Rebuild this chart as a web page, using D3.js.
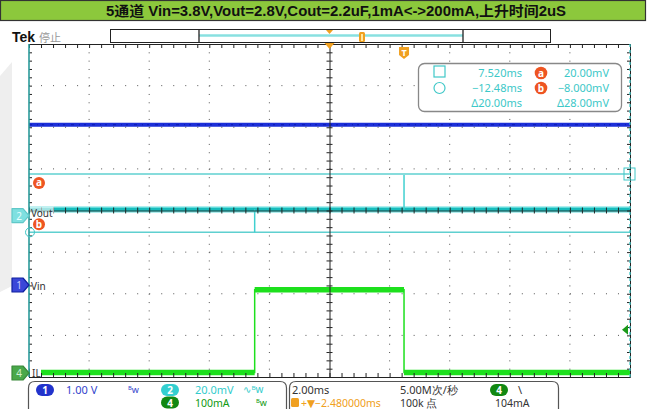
<!DOCTYPE html>
<html><head><meta charset="utf-8">
<script src="https://cdn.jsdelivr.net/npm/d3@7"></script>
<style>
html,body{margin:0;padding:0;background:#fff;}
svg{display:block;}
</style></head>
<body>
<svg id="c" width="650" height="409"></svg>
<script>
// ---------------- DATA ----------------
const titleText = "5通道 Vin=3.8V,Vout=2.8V,Cout=2.2uF,1mA<->200mA,上升时间2uS";
// time (ms, relative to trigger) shown on screen
const timeWindow = [-12.48, 7.52];
// Ch1 Vin (V)
const vinT = [-12.48, 7.52];
const vinV = [3.85, 3.85];
// Ch2 Vout (mV, AC detail)
const voutT = [-12.48, 7.52];
const voutV = [3, 3];
const voutSpikeT = [-4.97, 0.0];
const voutSpikeV = [-8, 19.5];
// Ch4 IL (mA)
const ilT = [-12.48, -4.97, -4.97, 0.0, 0.0, 7.52];
const ilV = [1, 1, 200, 200, 1, 1];
// cursors
const cursorA = 20.0, cursorB = -8.0;           // mV (ch2)
const cursorT1 = 7.52, cursorT2 = -12.48;       // ms
const readoutRows = [
  ["7.520ms", "a", "20.00mV"],
  ["\u221212.48ms", "b", "\u22128.000mV"],
  ["\u039420.00ms", "", "\u039428.00mV"]
];
// ---------------- LAYOUT ----------------
const svg = d3.select("#c");
const L = 29, R = 630, T = 44, B = 377;
const xDiv = d3.scaleLinear().domain([-5, 5]).range([L, R]);
const yDiv = d3.scaleLinear().domain([4, -4]).range([T, B]);
const x = d3.scaleLinear().domain(timeWindow).range([L, R]);
function chScale(perDiv, posDiv) {
  return d3.scaleLinear().domain([(-4 - posDiv) * perDiv, (4 - posDiv) * perDiv]).range([B, T]);
}
const y1 = chScale(1.0, -1.79);
const y2 = chScale(20, -0.123);
const y4 = chScale(100, -3.904);

const C_BLUE = "#1c2fd8", C_CYAN = "#2fd0d0", C_GREEN = "#1de01d", C_ORANGE = "#f0a020", C_RED = "#ee5522";
const FONT = "'Noto Sans','DejaVu Sans',sans-serif";

// title bar
svg.append("rect").attr("x", 0.5).attr("y", 0.5).attr("width", 645).attr("height", 20)
  .attr("fill", "#8cc83c").attr("stroke", "#333").attr("stroke-width", 1.2);
svg.append("text").attr("x", 336).attr("y", 15.5).attr("text-anchor", "middle")
  .attr("font-family", "'Liberation Sans Narrow','Liberation Sans','Noto Sans CJK SC',sans-serif")
  .attr("font-weight", "bold").attr("font-size", 14).attr("fill", "#111")
  .attr("textLength", 460).attr("lengthAdjust", "spacingAndGlyphs").text(titleText);

// left watermark
svg.append("path").attr("d", "M0,76 L12,62 L12,286 L0,292 Z").attr("fill", "#eeeeee");

// Tek label
svg.append("text").attr("x", 12).attr("y", 42).attr("font-family", "'Liberation Sans',Arial,sans-serif")
  .attr("font-weight", "bold").attr("font-size", 14).attr("fill", "#111").text("Tek");
svg.append("text").attr("x", 39).attr("y", 42).attr("font-family", "'Noto Sans CJK SC',sans-serif")
  .attr("font-size", 11).attr("fill", "#999").text("停止");

// record bar
svg.append("rect").attr("x", 110.5).attr("y", 29.5).attr("width", 440).attr("height", 13)
  .attr("fill", "#fff").attr("stroke", "#222").attr("stroke-width", 1);
svg.append("line").attr("x1", 199).attr("x2", 463).attr("y1", 35.5).attr("y2", 35.5)
  .attr("stroke", "#88e0e0").attr("stroke-width", 2.5);
[199, 463].forEach(v => svg.append("line").attr("x1", v).attr("x2", v).attr("y1", 30).attr("y2", 42)
  .attr("stroke", "#222").attr("stroke-width", 1.3));
svg.append("path").attr("d", "M326,30 L333,30 L329.5,34 Z").attr("fill", C_ORANGE);
svg.append("rect").attr("x", 359).attr("y", 32).attr("width", 6).attr("height", 10).attr("rx", 1.5)
  .attr("fill", C_ORANGE);
svg.append("rect").attr("x", 361).attr("y", 34).attr("width", 2).attr("height", 7).attr("fill", "#ffe6a0");

// ---------------- TRACES ----------------
const gTr = svg.append("g");
const line = (ys) => d3.line().x(d => x(d[0])).y(d => ys(d[1]));
const zip = (a, b) => a.map((v, i) => [v, b[i]]);

[cursorA, cursorB].forEach(v => gTr.append("line").attr("x1", L).attr("x2", R)
  .attr("y1", y2(v)).attr("y2", y2(v)).attr("stroke", "#5fd0d0").attr("stroke-width", 1.4));

// Vin
gTr.append("path").attr("d", line(y1)(zip(vinT, vinV))).attr("fill", "none")
  .attr("stroke", C_BLUE).attr("stroke-width", 4);
gTr.append("path").attr("d", line(y1)(zip(vinT, vinV))).attr("fill", "none")
  .attr("stroke", "#0a18b0").attr("stroke-width", 1.2).attr("stroke-dasharray", "3 5 1 4 2 6");

// Vout
gTr.append("path").attr("d", line(y2)(zip(voutT, voutV))).attr("fill", "none")
  .attr("stroke", C_CYAN).attr("stroke-width", 6).attr("opacity", 0.75);
gTr.append("path").attr("d", line(y2)(zip(voutT, voutV))).attr("fill", "none")
  .attr("stroke", "#18bcbc").attr("stroke-width", 3);
voutSpikeT.forEach((t, i) => gTr.append("line").attr("x1", x(t)).attr("x2", x(t))
  .attr("y1", y2(voutV[0])).attr("y2", y2(voutSpikeV[i])).attr("stroke", "#40d0d0").attr("stroke-width", 1.5));

// IL
const ilPts = zip(ilT, ilV);
gTr.append("path").attr("d", line(y4)(ilPts)).attr("fill", "none")
  .attr("stroke", C_GREEN).attr("stroke-width", 1.5);
for (let i = 0; i < ilPts.length - 1; i++) {
  if (ilPts[i][1] === ilPts[i + 1][1]) {
    gTr.append("line").attr("x1", x(ilPts[i][0])).attr("x2", x(ilPts[i + 1][0]))
      .attr("y1", y4(ilPts[i][1])).attr("y2", y4(ilPts[i][1]))
      .attr("stroke", C_GREEN).attr("stroke-width", 5.5);
  }
}

// ---------------- GRATICULE ----------------
const g = svg.append("g");
const minorX = d3.range(-5, 5.001, 0.2), minorY = d3.range(-4, 4.001, 0.2);
const dotC = "#555";
d3.range(-4, 5).filter(v => v !== 0).forEach(v => {
  g.append("line").attr("x1", xDiv(v)).attr("x2", xDiv(v)).attr("y1", T).attr("y2", B)
    .attr("stroke", dotC).attr("stroke-width", 1).attr("stroke-dasharray", `1 ${(B - T) / 40 - 1}`);
});
d3.range(-3, 4).filter(v => v !== 0).forEach(v => {
  g.append("line").attr("x1", L).attr("x2", R).attr("y1", yDiv(v)).attr("y2", yDiv(v))
    .attr("stroke", dotC).attr("stroke-width", 1).attr("stroke-dasharray", `1 ${(R - L) / 50 - 1}`);
});
function ax(axis, tx, ty) {
  const a = g.append("g").attr("transform", `translate(${tx},${ty})`).call(axis);
  a.selectAll("text").remove();
  a.selectAll("line").attr("stroke", "#222");
  a.select(".domain").attr("stroke", "#222");
  return a;
}
ax(d3.axisBottom(xDiv).tickValues(minorX).tickSize(4).tickSizeOuter(0).tickFormat(""), 0, T);
ax(d3.axisTop(xDiv).tickValues(minorX).tickSize(4).tickSizeOuter(0).tickFormat(""), 0, B);
ax(d3.axisLeft(yDiv).tickValues(minorY).tickSize(3).tickSizeOuter(0).tickFormat(""), R, 0);
ax(d3.axisLeft(yDiv).tickValues(minorY).tickSize(3).tickSizeOuter(0).tickFormat(""), xDiv(0), 0);
ax(d3.axisRight(yDiv).tickValues(minorY).tickSize(3).tickSizeOuter(0).tickFormat(""), xDiv(0), 0).select(".domain").remove();
ax(d3.axisTop(xDiv).tickValues(minorX).tickSize(3).tickSizeOuter(0).tickFormat(""), 0, yDiv(0)).select(".domain").attr("stroke-width", 0.8);
ax(d3.axisBottom(xDiv).tickValues(minorX).tickSize(3).tickSizeOuter(0).tickFormat(""), 0, yDiv(0)).select(".domain").remove();
ax(d3.axisRight(yDiv).tickValues(minorY).tickSize(3).tickSizeOuter(0).tickFormat(""), L, 0).select(".domain").remove();
g.append("line").attr("x1", x(cursorT2)).attr("x2", x(cursorT2)).attr("y1", T).attr("y2", B)
  .attr("stroke", "#2a9a9a").attr("stroke-width", 1.6);
g.append("line").attr("x1", x(cursorT1)).attr("x2", x(cursorT1)).attr("y1", T).attr("y2", B)
  .attr("stroke", "#40c8c8").attr("stroke-width", 1.3).attr("stroke-dasharray", "3 3");

// ---------------- MARKERS ----------------
function chMarker(yc, fill, stroke, label, txtColor) {
  const p = `M12,${yc - 7} L23,${yc - 7} L29,${yc} L23,${yc + 7} L12,${yc + 7} Z`;
  svg.append("path").attr("d", p).attr("fill", fill).attr("stroke", stroke).attr("stroke-width", 1.2)
    .attr("stroke-linejoin", "round");
  svg.append("text").attr("x", 19).attr("y", yc + 4).attr("text-anchor", "middle")
    .attr("font-family", FONT).attr("font-size", 10).attr("fill", txtColor).text(label);
}
chMarker(y2(0), "#7fe0e0", "#60c8c8", "2", "#e8ffff");
chMarker(y1(0), "#3a46d8", "#1020a0", "1", "#c8ccff");
chMarker(y4(0), "#4aa84a", "#3a8a3a", "4", "#d0f0d0");

svg.append("rect").attr("x", 30).attr("y", y2(0) - 9).attr("width", 24).attr("height", 11).attr("fill", "#fff").attr("opacity", 0.6);
svg.append("text").attr("x", 31).attr("y", y2(0) + 1).attr("font-family", FONT).attr("font-size", 10).attr("fill", "#333").text("Vout");
svg.append("text").attr("x", 31).attr("y", y1(0) + 5).attr("font-family", FONT).attr("font-size", 10).attr("fill", "#333").text("Vin");
svg.append("rect").attr("x", 30).attr("y", y4(0) - 6).attr("width", 11).attr("height", 10).attr("fill", "#fff");
svg.append("text").attr("x", 32).attr("y", y4(0) + 4).attr("font-family", FONT).attr("font-size", 10).attr("fill", "#333").text("IL");

function orangeBadge(cx, cy, ch, r) {
  svg.append("circle").attr("cx", cx).attr("cy", cy).attr("r", r).attr("fill", C_RED);
  svg.append("text").attr("x", cx).attr("y", cy + 3.5).attr("text-anchor", "middle").attr("font-family", FONT)
    .attr("font-weight", "bold").attr("font-size", 10).attr("fill", "#fff").text(ch);
}
orangeBadge(39, y2(cursorA) + 9, "a", 6);
orangeBadge(39, y2(cursorB) - 8, "b", 6);
svg.append("circle").attr("cx", x(cursorT2) + 1).attr("cy", y2(cursorB)).attr("r", 4.5)
  .attr("fill", "none").attr("stroke", "#40c8c8").attr("stroke-width", 1);
svg.append("rect").attr("x", x(cursorT1) - 6).attr("y", y2(cursorA) - 6).attr("width", 11).attr("height", 12)
  .attr("fill", "none").attr("stroke", "#40c8c8").attr("stroke-width", 1);

svg.append("path").attr("d", `M${xDiv(0) - 5},${T - 1} L${xDiv(0) + 5},${T - 1} L${xDiv(0)},${T + 5} Z`).attr("fill", C_ORANGE);
svg.append("path").attr("d", `M${x(0) - 5},${T + 3} h10 v8 l-5,4 l-5,-4 Z`).attr("fill", C_ORANGE);
svg.append("text").attr("x", x(0)).attr("y", T + 12).attr("text-anchor", "middle").attr("font-family", FONT)
  .attr("font-weight", "bold").attr("font-size", 9).attr("fill", "#fff").text("T");
svg.append("path").attr("d", `M${R - 8},${y4(104)} l6,-5 v10 Z`).attr("fill", "#1a9a1a");

// ---------------- READOUT ----------------
svg.append("rect").attr("x", 418.5).attr("y", 63.5).attr("width", 203).attr("height", 48).attr("rx", 6)
  .attr("fill", "#fff").attr("stroke", "#888").attr("stroke-width", 1.3);
const rowY = [77, 92, 107];
svg.append("rect").attr("x", 434).attr("y", 66).attr("width", 11).attr("height", 11).attr("fill", "none")
  .attr("stroke", "#40c8c8").attr("stroke-width", 1.2);
svg.append("circle").attr("cx", 439.5).attr("cy", 88).attr("r", 5.5).attr("fill", "none")
  .attr("stroke", "#40c8c8").attr("stroke-width", 1.2);
readoutRows.forEach((r, i) => {
  svg.append("text").attr("x", 522).attr("y", rowY[i]).attr("text-anchor", "end").attr("font-family", FONT)
    .attr("font-size", 11).attr("fill", "#3cc8c8").text(r[0]);
  if (r[1]) orangeBadge(541, rowY[i] - 4, r[1], 6.3);
  svg.append("text").attr("x", 609).attr("y", rowY[i]).attr("text-anchor", "end").attr("font-family", FONT)
    .attr("font-size", 11).attr("fill", "#3cc8c8").text(r[2]);
});

// ---------------- STATUS BAR ----------------
svg.append("path").attr("d", "M28.5,412 V388 Q28.5,381.5 35,381.5 H280 Q286.5,381.5 286.5,388 V412")
  .attr("fill", "none").attr("stroke", "#555").attr("stroke-width", 1.2);
svg.append("path").attr("d", "M289.5,412 V388 Q289.5,381.5 296,381.5 H552 Q558.5,381.5 558.5,388 V412")
  .attr("fill", "none").attr("stroke", "#555").attr("stroke-width", 1.2);
function pill(cx, cy, fill, label) {
  svg.append("rect").attr("x", cx - 9).attr("y", cy - 6).attr("width", 18).attr("height", 12).attr("rx", 6).attr("fill", fill);
  svg.append("text").attr("x", cx).attr("y", cy + 4).attr("text-anchor", "middle").attr("font-family", FONT)
    .attr("font-weight", "bold").attr("font-size", 10).attr("fill", "#fff").text(label);
}
const st = (xx, yy, txt, col, size) => svg.append("text").attr("x", xx).attr("y", yy).attr("font-family", FONT)
  .attr("font-size", size || 11).attr("fill", col).text(txt);
pill(45, 390, "#2233cc", "1");
st(66, 394, "1.00 V", "#3344cc");
st(128, 393, "ᴮw", "#3344cc", 9);
pill(170, 390, "#33cfd0", "2");
st(195, 394, "20.0mV", "#33cccc");
st(243, 393, "∿ᴮw", "#33cccc", 10);
pill(170, 402.5, "#118811", "4");
st(195, 406.5, "100mA", "#119911", 10.5);
st(256, 406, "ᴮw", "#119911", 9);
st(292, 394, "2.00ms", "#333");
svg.append("rect").attr("x", 291).attr("y", 398).attr("width", 8).attr("height", 9).attr("rx", 1.5).attr("fill", C_ORANGE);
st(301, 406.5, "+▼−2.480000ms", C_ORANGE, 10.5);
st(400, 394, "5.00M次/秒", "#333");
st(400, 406.5, "100k 点", "#333", 10.5);
pill(499, 390, "#118811", "4");
st(518, 394, "\\", "#333");
st(495, 406.5, "104mA", "#333", 10.5);
</script>
</body></html>
